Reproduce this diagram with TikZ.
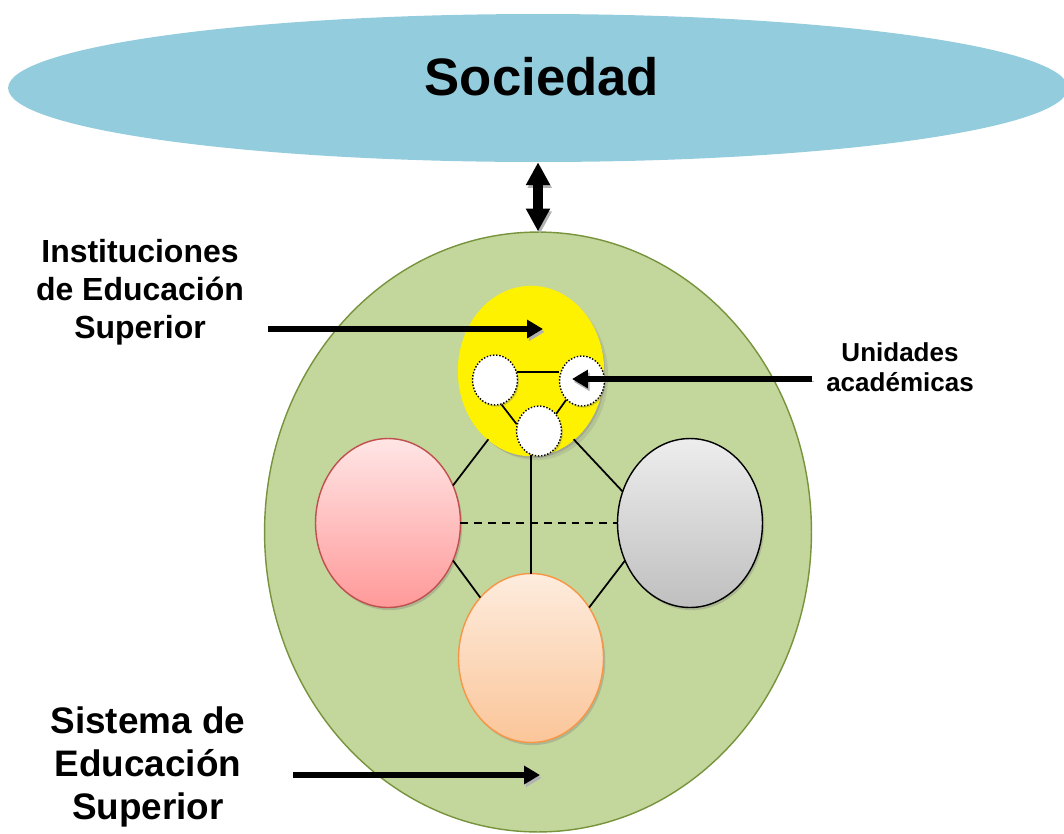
\documentclass[tikz,border=0pt]{standalone}
\usepackage{fontspec}
\setmainfont{Liberation Sans}
\usetikzlibrary{shapes.geometric, shadows, arrows.meta}
\definecolor{socblue}{RGB}{147,205,221}
\definecolor{sysgreen}{RGB}{195,214,155}
\definecolor{sysline}{RGB}{119,147,60}
\definecolor{redline}{RGB}{192,80,77}
\definecolor{orline}{RGB}{247,150,70}

\begin{document}
\begin{tikzpicture}[x = 0.02cm, y = -0.02cm,
    blob/.style = {ellipse, draw, inner sep = 0pt, outer sep = 0pt, line width = 0.8pt,
                   minimum width = 2.9cm, minimum height = 3.38cm,
                   drop shadow = {shadow xshift = 1pt, shadow yshift = -1.5pt, opacity = 0.35}},
    unit/.style = {ellipse, draw, densely dotted, line width = 0.8pt, fill = white, inner sep = 0pt,
                   minimum width = 0.9cm, minimum height = 1cm,
                   drop shadow = {shadow xshift = 0.8pt, shadow yshift = -1pt, opacity = 0.35}},
    link/.style = {line width = 1pt},
    fat/.style  = {line width = 3.4pt, -{Triangle[length = 9pt, width = 10pt]},
                   preaction = {draw = gray!60, transform canvas = {xshift = 1pt, yshift = -1.6pt}}},
    label/.style = {font = \bfseries, align = center}]
  \clip (0,0) rectangle (1064,833);

  % sociedad y sistema
  \node[ellipse, fill = socblue, minimum width = 21.2cm, minimum height = 2.96cm, inner sep = 0pt] (soc) at (538,88) {};
  \node[label, font = \bfseries\fontsize{30}{36}\selectfont] (soctext) at (542,77) {Sociedad};
  \node[ellipse, fill = sysgreen, draw = sysline, line width = 0.8pt, minimum width = 10.94cm, minimum height = 12cm, inner sep = 0pt] (sys) at (538,532) {};

  % instituciones
  \node[blob, draw = yellow, fill = yellow, drop shadow = {opacity = 0.2}] (yel) at (531,371) {};
  \node[blob, draw = redline, top color = red!10, bottom color = red!40] (pink) at (388,523) {};
  \node[blob, draw = black, top color = black!7, bottom color = black!25] (gray) at (690,523) {};
  \node[blob, draw = orline, top color = orline!18, bottom color = orline!55] (ora) at (531,658) {};

  % unidades academicas
  \node[unit] (uL) at (495,380) {};
  \node[unit] (uR) at (582,381) {};
  \node[unit] (uB) at (539,431) {};

  \path[link] (uL.20)   edge (uL.20 -| uR.west)
              (uL.-75)  edge (uB.163)
              (uR.-130) edge (uB.45)
              (yel.-122) edge (pink.30)
              (yel.-58)  edge (gray.155)
              (yel.south) edge (ora.north)
              (pink.-30) edge (ora.130)
              (gray.-150) edge (ora.41)
              (pink.east) edge[dash pattern = on 4.5pt off 3.4pt] (gray.west);

  % textos
  \node[label, font = \bfseries\fontsize{18.2}{21.5}\selectfont] (ies) at (140,292) {Instituciones\\de Educación\\Superior};
  \node[label, font = \bfseries\fontsize{14.8}{17}\selectfont] (ua) at (900,367) {Unidades\\académicas};
  \node[label, font = \bfseries\fontsize{21}{24.4}\selectfont] (ses) at (148,767) {Sistema de\\Educación\\Superior};

  \coordinate (iesA) at (268,329);
  \coordinate (iesB) at (543,329);
  \coordinate (uaA) at (812,379);
  \coordinate (uaB) at (572,379);
  \coordinate (sesA) at (293,775);
  \coordinate (sesB) at (540,775);

  \draw[fat] (iesA) -- (iesB);
  \draw[fat] (uaA) -- (uaB);
  \draw[fat] (sesA) -- (sesB);
  \draw[line width = 5.5pt, {Triangle[length = 13pt, width = 13pt]}-{Triangle[length = 13pt, width = 13pt]},
        preaction = {draw = gray!60, transform canvas = {xshift = 1pt, yshift = -1.6pt}}]
        (soc.south) -- (sys.north);
\end{tikzpicture}
\end{document}
